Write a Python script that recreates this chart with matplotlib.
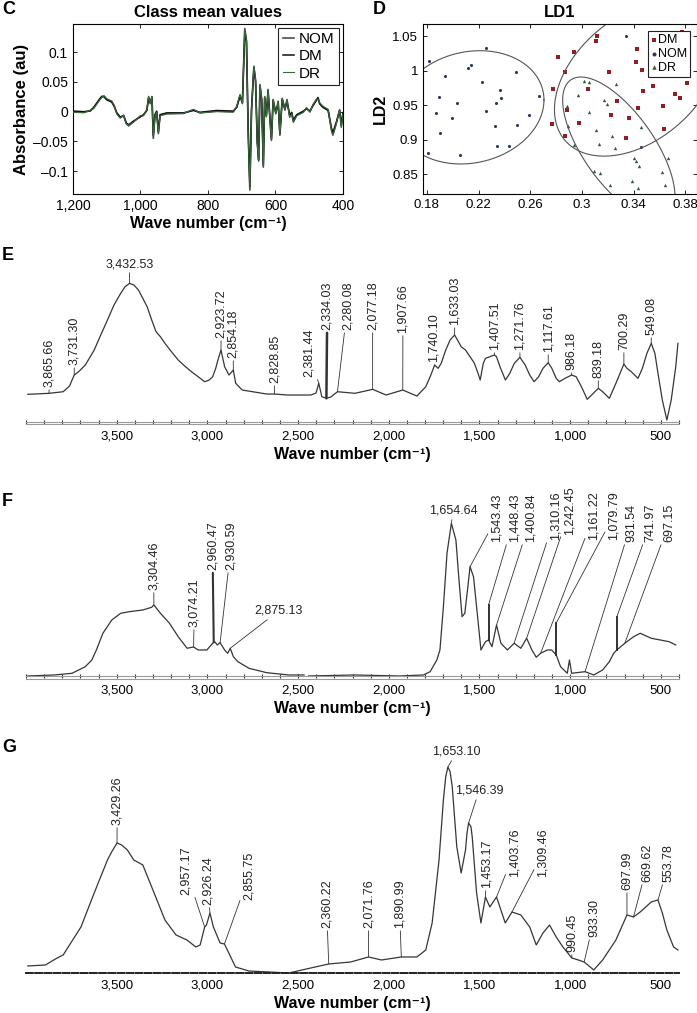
import numpy as np
import matplotlib
matplotlib.use('Agg')
import matplotlib.pyplot as plt
from matplotlib.ticker import FixedLocator, FixedFormatter, MultipleLocator, FuncFormatter

plt.rcParams['font.family'] = ['Liberation Sans', 'DejaVu Sans']
plt.rcParams['axes.linewidth'] = 0.8

# ---------------- panel C : class mean spectra ----------------
c_wave = [1200, 1168, 1149, 1139, 1129, 1119, 1114, 1108, 1100, 1085, 1078, 1070, 1060, 1050,
          1042, 1035, 1021, 1001, 991, 981, 976, 971, 966, 962, 957, 952, 947, 942, 922, 873,
          843, 824, 774, 725, 715, 705, 698, 691, 686, 681, 676, 671, 664, 659, 654, 650, 646,
          641, 636, 632, 627, 622, 617, 612, 607, 599, 592, 587, 580, 572, 566, 558, 552, 547,
          537, 517, 508, 498, 489, 479, 474, 469, 459, 444, 434, 430, 420, 410, 405, 400]
c_nom = [0.000, -0.001, 0.002, 0.006, 0.014, 0.022, 0.025, 0.026, 0.021, 0.017, 0.010, -0.003,
         -0.010, -0.006, -0.020, -0.024, -0.017, -0.008, -0.006, 0.003, 0.025, 0.014, 0.025,
         -0.045, -0.006, 0.000, -0.037, -0.006, -0.003, -0.003, 0.003, -0.002, 0.001, 0.000,
         0.008, 0.028, 0.014, 0.140, 0.120, -0.031, -0.132, 0.003, 0.076, 0.053, -0.053, -0.082,
         0.045, 0.020, -0.093, 0.025, -0.008, 0.037, -0.008, -0.048, 0.020, -0.003, 0.017,
         -0.039, 0.022, 0.003, 0.020, -0.008, -0.003, -0.017, -0.006, 0.000, 0.006, 0.000,
         0.011, 0.020, 0.022, 0.014, 0.008, 0.003, -0.031, -0.039, -0.020, 0.003, -0.025, -0.003]
c_dm = [0.001, 0.000, 0.001, 0.007, 0.015, 0.023, 0.026, 0.025, 0.020, 0.016, 0.009, -0.002,
        -0.009, -0.007, -0.019, -0.022, -0.016, -0.009, -0.005, 0.002, 0.023, 0.015, 0.024,
        -0.040, -0.005, 0.001, -0.034, -0.005, -0.002, -0.002, 0.002, -0.001, 0.002, 0.001,
        0.007, 0.026, 0.015, 0.136, 0.118, -0.028, -0.126, 0.004, 0.074, 0.050, -0.050, -0.079,
        0.043, 0.021, -0.090, 0.023, -0.006, 0.035, -0.006, -0.046, 0.019, -0.002, 0.016,
        -0.037, 0.021, 0.004, 0.018, -0.006, -0.001, -0.014, -0.005, 0.001, 0.005, 0.001,
        0.010, 0.019, 0.024, 0.013, 0.007, 0.002, -0.028, -0.035, -0.018, 0.002, -0.022, -0.002]
c_dr = [-0.001, -0.002, 0.002, 0.005, 0.013, 0.021, 0.024, 0.027, 0.022, 0.018, 0.011, -0.004,
        -0.011, -0.006, -0.021, -0.023, -0.018, -0.007, -0.007, 0.004, 0.026, 0.013, 0.026,
        -0.043, -0.007, -0.001, -0.036, -0.007, -0.004, -0.003, 0.004, -0.002, 0.000, -0.001,
        0.009, 0.029, 0.013, 0.138, 0.121, -0.033, -0.130, 0.002, 0.077, 0.054, -0.052, -0.084,
        0.046, 0.019, -0.094, 0.026, -0.009, 0.038, -0.009, -0.049, 0.021, -0.004, 0.018,
        -0.040, 0.023, 0.002, 0.021, -0.010, -0.004, -0.018, -0.007, -0.001, 0.007, -0.001,
        0.012, 0.021, 0.021, 0.015, 0.009, 0.004, -0.033, -0.040, -0.021, 0.004, -0.027, -0.004]

# ---------------- panel D : LDA scores ----------------
d_dm_x = [0.2774, 0.2767, 0.2813, 0.2867, 0.2882, 0.2872, 0.2941, 0.2974, 0.3044, 0.3108, 0.3115,
          0.3210, 0.3223, 0.3274, 0.3338, 0.3364, 0.3428, 0.3415, 0.3436, 0.3467, 0.3474, 0.3549,
          0.3628, 0.3631, 0.3723, 0.3762, 0.3774, 0.3813]
d_dm_y = [0.9735, 0.9226, 1.0195, 0.9977, 0.9425, 0.9047, 1.0272, 0.9241, 0.9740, 1.0427, 1.0510,
          0.9987, 0.9362, 0.9556, 0.9023, 0.9314, 1.0316, 1.0127, 0.9459, 1.0016, 0.9711, 0.9774,
          0.9482, 0.9154, 0.9667, 0.9604, 1.0558, 0.9822]
d_nom_x = [0.1805, 0.1813, 0.1940, 0.1870, 0.1890, 0.1903, 0.2036, 0.1992, 0.2056, 0.2120, 0.2138,
           0.2223, 0.2256, 0.2254, 0.2338, 0.2326, 0.2364, 0.2377, 0.2344, 0.2436, 0.2492, 0.2497,
           0.2587, 0.2667, 0.3338, 0.3454]
d_nom_y = [0.8805, 1.0137, 0.9920, 0.9390, 0.9620, 0.9096, 0.9531, 0.9313, 0.8771, 1.0040, 1.0088,
           0.9832, 1.0330, 0.9420, 0.9531, 0.9193, 0.9725, 0.9604, 0.8902, 0.8902, 0.9987, 0.9217,
           0.9352, 0.9628, 1.0500, 0.8887]
d_dr_x = [0.2882, 0.2890, 0.2941, 0.2969, 0.3013, 0.3056, 0.3056, 0.3108, 0.3133, 0.3095, 0.3140,
          0.3167, 0.3197, 0.3236, 0.3262, 0.3256, 0.3218, 0.3403, 0.3385, 0.3415, 0.3436, 0.3441,
          0.3454, 0.3621, 0.3664, 0.3646]
d_dr_y = [0.9483, 0.9202, 0.8917, 0.9648, 0.9846, 0.9837, 0.9406, 0.9144, 0.8941, 0.8548, 0.8514,
          0.9570, 0.9522, 0.9047, 0.9808, 0.8878, 0.8340, 0.8732, 0.8393, 0.8684, 0.8297, 0.8611,
          0.9183, 0.8524, 0.8732, 0.8340]
# class ellipses: centre x, centre y, x radius, y radius, tilt phase
ell_cx = [0.2136, 0.3425, 0.3285]
ell_cy = [0.9469, 0.9885, 0.8875]
ell_rx = [0.0570, 0.0638, 0.04346]
ell_ry = [0.0823, 0.1125, 0.1035]
ell_ph = [0.13, 0.41, -0.74]

# ---------------- panel E spectrum ----------------
e_wave = [3990, 3873, 3795, 3760, 3746, 3734, 3710, 3673, 3624, 3588, 3551, 3515, 3478, 3454,
          3429, 3405, 3380, 3356, 3332, 3307, 3283, 3259, 3234, 3198, 3161, 3125, 3088, 3051,
          3015, 2990, 2971, 2954, 2942, 2925, 2905, 2881, 2857, 2844, 2808, 2673, 2630, 2560,
          2430, 2401, 2386, 2369, 2344, 2320, 2283, 2186, 2089, 2015, 1923, 1845, 1796, 1772,
          1747, 1728, 1711, 1686, 1662, 1637, 1621, 1601, 1577, 1552, 1528, 1508, 1496, 1479,
          1467, 1443, 1418, 1406, 1387, 1357, 1333, 1308, 1277, 1248, 1223, 1199, 1174, 1150,
          1121, 1101, 1077, 1060, 1028, 992, 967, 938, 906, 882, 845, 821, 784, 748, 704, 687,
          663, 626, 602, 577, 553, 533, 516, 492, 467, 443, 418, 406]
e_abs = [27.7, 28.7, 30.3, 36, 42, 47, 50.3, 57, 72, 87, 102, 117, 128.7, 135.3,
         138.7, 137, 132, 123.7, 115.3, 102, 90.3, 85.3, 78.7, 70.3, 62, 56, 50.3, 45.3,
         40.3, 42, 45.3, 53.7, 62, 72, 55.3, 47, 52, 38.7, 32, 28, 28, 27,
         27, 29, 38.7, 25.3, 23.7, 25, 30.3, 28.7, 32.7, 27, 32, 26, 35.3, 45.3,
         57, 53.7, 58.7, 72, 82, 87, 82, 75.3, 72, 65.3, 58.7, 48.7, 42, 58.7,
         63.7, 65.3, 67, 65.3, 55.3, 42, 48.7, 58.7, 64.7, 57, 47, 40.3, 45.3, 53.7,
         59.3, 53.7, 43.7, 40.3, 43.7, 47, 45.3, 35.3, 22.7, 27, 33.7, 30.3, 23.7, 38.7, 58, 53.7,
         50.3, 43.7, 53.7, 68.7, 78.7, 68.7, 48.7, 22, 2, 22, 55.3, 78.7]
e_labels = ['3,865.66', '3,731.30', '3,432.53', '2,923.72', '2,854.18', '2,828.85', '2,381.44',
            '2,334.03', '2,280.08', '2,077.18', '1,907.66', '1,740.10', '1,633.03', '1,407.51',
            '1,271.76', '1,117.61', '986.18', '839.18', '700.29', '549.08']
e_peaks = [3873, 3734, 3429, 2925, 2857, 2630, 2386, 2344, 2283, 2089, 1923, 1747, 1637, 1418,
           1277, 1121, 992, 845, 704, 553]

# ---------------- panel F spectrum ----------------
f_wave = [3990, 3844, 3746, 3673, 3637, 3612, 3576, 3527, 3478, 3429, 3356, 3307, 3295, 3259, 3209,
          3161, 3112, 3076, 3051, 3003, 2971, 2960, 2945, 2930, 2905, 2888, 2874, 2857, 2832, 2771,
          2673, 2552, 2467, np.nan, 2442, 2186, 1942, 1809, 1772, 1735, 1718, 1699, 1679, 1655, 1630,
          1613, 1596, 1581, 1564, 1552, 1533, 1516, 1492, 1467, 1450, 1431, 1406, 1382, 1346, 1309,
          1272, 1240, 1211, 1187, 1163, 1126, 1102, 1077, 1053, 1016, 1004, 992, 918, 870, 821,
          784, 760, 743, 699, 650, 614, 553, 504, 455, 418]
f_abs = [0, 1, 2.7, 9.3, 16, 26, 42.7, 56, 62.7, 64.3, 66, 68.7, 71, 62.7, 52.7,
         39.3, 27.7, 29, 26, 26, 32.7, 34.3, 31, 33.3, 26, 22.7, 27.7, 19.3, 14.3, 7.7,
         3.3, 1, 1, np.nan, 0, 1, 0, 1, 4.3, 16, 26, 69, 122.7, 152.7, 136,
         96, 59.3, 62.7, 89.3, 109.3, 99.3, 69.3, 26, 34.3, 36, 29.3, 51, 32.7, 26, 32.7,
         27.7, 37.7, 26, 18.7, 22.7, 26, 26, 21, 9.3, 2.7, 16, 2.7, 4.3, 1, 6,
         14.3, 22.7, 26, 32.7, 39.3, 42.7, 37.7, 36, 34.3, 31]
f_labels = ['3,304.46', '3,074.21', '2,960.47', '2,930.59', '2,875.13', '1,654.64', '1,543.43',
            '1,448.43', '1,400.84', '1,310.16', '1,242.45', '1,161.22', '1,079.79', '931.54',
            '741.97', '697.15']
f_peaks = [3295, 3076, 2965, 2930, 2874, 1655, 1552, 1450, 1406, 1309, 1240, 1163, 1077, 918,
           743, 699]

# ---------------- panel G spectrum ----------------
g_wave = [3990, 3893, 3831, 3795, 3697, 3624, 3551, 3527, 3498, 3473, 3441, 3406, 3356, 3307,
          3234, 3173, 3113, 3064, 3040, 3015, 3005, 2986, 2967, 2930, 2906, 2882, 2845, 2772, 2551,
          2430, 2331, 2210, 2112, 2040, 1931, 1845, 1796, 1761, 1723, 1699, 1686, 1674, 1662, 1650,
          1625, 1601, 1577, 1569, 1560, 1547, 1540, 1516, 1492, 1467, 1443, 1406, 1382, 1358, 1321,
          1272, 1223, 1187, 1150, 1114, 1077, 1040, 991, 955, 923, 870, 821, 748, 687, 651, 614,
          553, 516, 492, 467, 430, 406]
g_abs = [7, 8, 14.7, 18, 46, 80, 113, 121.3, 130, 128, 123, 113, 108, 86,
         53, 38, 33, 26, 28, 46, 48, 60, 46, 30, 29, 20, 6, 2, 0,
         5, 9, 11, 16, 13, 16, 16, 23, 50, 113, 173, 196.3, 206, 201.3, 186,
         126, 100, 123, 139.7, 150, 146.3, 136, 80, 50, 76, 66, 76, 63, 50, 61,
         58, 46, 28, 40, 48, 36, 26, 15, 13, 11, 3, 13, 33, 58, 56, 61,
         71, 73, 60, 43, 26, 23]
g_labels = ['3,429.26', '2,957.17', '2,926.24', '2,855.75', '2,360.22', '2,071.76', '1,890.99',
            '1,653.10', '1,546.39', '1,453.17', '1,403.76', '1,309.46', '990.45', '933.30',
            '697.99', '669.62', '553.78']
g_peaks = [3498, 3015, 2986, 2906, 2331, 2112, 1931, 1674, 1560, 1467, 1406, 1321, 991, 923,
           687, 651, 516]

# label placement: text x (cm-1), text bottom (a.u.), rotation, leader width, vertical stub top
e_layout = [(3873, 35, 90, .6, None), (3734, 57, 90, .6, None), (3429, 152, 0, .6, None),
            (2924, 84, 90, .6, None), (2858, 64, 90, .6, None), (2630, 39, 90, .6, None),
            (2441, 45, 90, .6, None), (2339, 92, 90, 1.8, None), (2227, 92, 90, .6, None),
            (2089, 92, 90, .6, None), (1922, 89, 90, .6, None), (1755, 60, 90, .6, None),
            (1637, 97, 90, .6, None), (1418, 72, 90, .6, None), (1277, 72, 90, .6, None),
            (1121, 70, 90, .6, None), (992, 52, 90, .6, None), (845, 44, 90, .6, None),
            (704, 72, 90, .6, None), (553, 87, 90, .6, None)]
f_layout = [(3296, 86, 90, .6, None), (3072, 49, 90, .6, None), (2972, 106, 90, 1.5, None),
            (2869, 106, 90, .6, None), (2608, 59, 0, .6, None), (1645, 159, 0, .6, None),
            (1406, 134, 90, .6, None), (1308, 134, 90, 1.3, 71), (1216, 134, 90, .6, None),
            (1082, 136, 90, .6, None), (1004, 141, 90, .6, None), (870, 136, 90, .6, None),
            (760, 136, 90, 1.3, 53), (663, 134, 90, .6, None), (557, 134, 90, 1.3, 59),
            (455, 134, 90, .6, None)]
g_layout = [(3498, 148, 90, .6, None), (3117, 78, 90, .6, None), (2998, 68, 90, .6, None),
            (2772, 73, 90, .6, None), (2344, 45, 90, .6, None), (2112, 45, 90, .6, None),
            (1942, 45, 90, .6, None), (1626, 215, 0, .6, None), (1503, 176, 0, .6, None),
            (1462, 85, 90, .6, None), (1308, 96, 90, .6, None), (1151, 96, 90, .6, None),
            (987, 21, 90, .6, None), (866, 36, 90, .6, None), (687, 83, 90, .6, None),
            (572, 91, 90, .6, None), (456, 91, 90, .6, None)]

fig = plt.figure(figsize=(6.97, 10.13), dpi=100)

# ---- C ----
axc = fig.add_axes([0.1047, 0.8085, 0.3874, 0.1678])
axc.plot(c_wave, c_nom, color='#4d4d4d', lw=1.2, label='NOM', zorder=3)
axc.plot(c_wave, c_dm, color='#111111', lw=1.1, label='DM', zorder=4)
axc.plot(c_wave, c_dr, color='#3a6a3c', lw=0.8, label='DR', zorder=5)
axc.set_xlim(1200, 400)
axc.set_ylim(-0.1386, 0.1476)
axc.xaxis.set_major_locator(FixedLocator([1200, 1000, 800, 600, 400]))
axc.xaxis.set_major_formatter(FixedFormatter(['1,200', '1,000', '800', '600', '400']))
axc.yaxis.set_major_locator(FixedLocator([-0.1, -0.05, 0, 0.05, 0.1]))
axc.yaxis.set_major_formatter(FixedFormatter(['\u20130.1', '\u20130.05', '0', '0.05', '0.1']))
axc.tick_params(direction='in', top=True, right=True, length=3, width=0.6, labelsize=10)
axc.set_xlabel('Wave number (cm\u207b\u00b9)', fontsize=11.5, fontweight='bold', labelpad=2)
axc.set_ylabel('Absorbance (au)', fontsize=12, fontweight='bold', labelpad=3)
axc.set_title('Class mean values', fontsize=12, fontweight='bold', pad=5)
leg = axc.legend(loc='upper right', fontsize=11, handlelength=0.7, handletextpad=0.35,
                 labelspacing=0.2, borderpad=0.3, borderaxespad=0.25, fancybox=False,
                 framealpha=1)
leg.get_frame().set_edgecolor('#222222')
leg.get_frame().set_linewidth(0.8)

# ---- D ----
axd = fig.add_axes([0.6069, 0.8085, 0.3931, 0.1678])
t = np.linspace(0, 2 * np.pi, 300)
for cx, cy, rx, ry, ph in zip(ell_cx, ell_cy, ell_rx, ell_ry, ell_ph):
    axd.plot(cx + rx * np.cos(t), cy + ry * np.sin(t + ph), color='#555555', lw=0.8)
axd.scatter(d_dm_x, d_dm_y, s=5, marker='s', color='#8e2020', lw=0, label='DM')
axd.scatter(d_nom_x, d_nom_y, s=5, marker='o', color='#2c3a58', lw=0, label='NOM')
axd.scatter(d_dr_x, d_dr_y, s=6, marker='^', color='#2f5a38', lw=0, label='DR')
axd.set_xlim(0.177, 0.389)
axd.set_ylim(0.821, 1.068)
axd.xaxis.set_major_locator(FixedLocator([0.18, 0.22, 0.26, 0.3, 0.34, 0.38]))
axd.xaxis.set_major_formatter(FixedFormatter(['0.18', '0.22', '0.26', '0.3', '0.34', '0.38']))
axd.yaxis.set_major_locator(FixedLocator([0.85, 0.9, 0.95, 1.0, 1.05]))
axd.yaxis.set_major_formatter(FixedFormatter(['0.85', '0.9', '0.95', '1', '1.05']))
axd.tick_params(direction='in', top=True, right=True, length=3, width=0.6, labelsize=9.5)
axd.set_ylabel('LD2', fontsize=11.5, fontweight='bold', labelpad=3)
axd.set_title('LD1', fontsize=12, fontweight='bold', pad=5)
legd = axd.legend(loc='upper right', fontsize=9, handlelength=0.4, handletextpad=0.15,
                  labelspacing=0.15, borderpad=0.25, borderaxespad=0.55, fancybox=False,
                  framealpha=1, markerscale=1.3)
legd.get_frame().set_edgecolor('#222222')
legd.get_frame().set_linewidth(0.8)


def spectrum(rect, top, wave, absb, labels, peaks, layout, dashed=False):
    ax = fig.add_axes(rect)
    ax.plot(wave, absb, color='#3a3436', lw=0.9)
    ax.set_xlim(4000, 400)
    ax.set_ylim(0, top)
    for s in ['left', 'right', 'top']:
        ax.spines[s].set_visible(False)
    if dashed:
        ax.spines['bottom'].set_linestyle((0, (3.5, 1.2)))
        ax.spines['bottom'].set_color('#222222')
        ax.spines['bottom'].set_linewidth(1.4)
    else:
        ax.spines['bottom'].set_color('#9a9a9a')
        ax.spines['bottom'].set_linewidth(0.8)
        ax.plot([0, 1], [-0.013, -0.013], transform=ax.transAxes, color='#9a9a9a',
                lw=0.8, clip_on=False)
    ax.set_yticks([])
    ax.xaxis.set_major_locator(FixedLocator([3500, 3000, 2500, 2000, 1500, 1000, 500]))
    ax.xaxis.set_minor_locator(MultipleLocator(100))
    ax.xaxis.set_major_formatter(FuncFormatter(lambda v, p: f'{v:,.0f}'))
    ax.tick_params(axis='x', which='both', direction='inout', length=2.5 if not dashed else 0,
                   width=0.8, color='#333333', labelsize=9.5, pad=5)
    ax.set_xlabel('Wave number (cm\u207b\u00b9)', fontsize=11.5, fontweight='bold', labelpad=3)
    ok = ~np.isnan(np.asarray(wave, float))
    xs = np.asarray(wave, float)[ok][::-1]
    ys = np.asarray(absb, float)[ok][::-1]
    for lab, pk, (tx, ty, rot, lw, stub) in zip(labels, peaks, layout):
        ph = np.interp(pk, xs, ys)
        if stub is not None:
            ax.plot([pk, pk], [ph, stub], color='#222222', lw=lw)
            ph, lw = stub, 0.6
        ax.annotate(lab, xy=(pk, ph), xytext=(tx, ty), textcoords='data', rotation=rot,
                    ha='center', va='bottom', fontsize=9, color='#222222',
                    arrowprops=dict(arrowstyle='-', lw=lw, color='#333333',
                                    shrinkA=0, shrinkB=0))
    return ax


spectrum([0.0373, 0.5834, 0.9369, 0.1747], 177, e_wave, e_abs, e_labels, e_peaks, e_layout)
spectrum([0.0373, 0.3327, 0.9369, 0.1935], 196, f_wave, f_abs, f_labels, f_peaks, f_layout)
spectrum([0.0373, 0.0395, 0.9369, 0.2251], 228, g_wave, g_abs, g_labels, g_peaks, g_layout,
         dashed=True)

for letter, x, y in [('C', 0.003, 0.991), ('D', 0.535, 0.991), ('E', 0.003, 0.748),
                     ('F', 0.003, 0.505), ('G', 0.003, 0.262)]:
    fig.text(x, y, letter, fontsize=13, fontweight='bold', ha='left', va='center')

fig.savefig('out.png', dpi=100)
